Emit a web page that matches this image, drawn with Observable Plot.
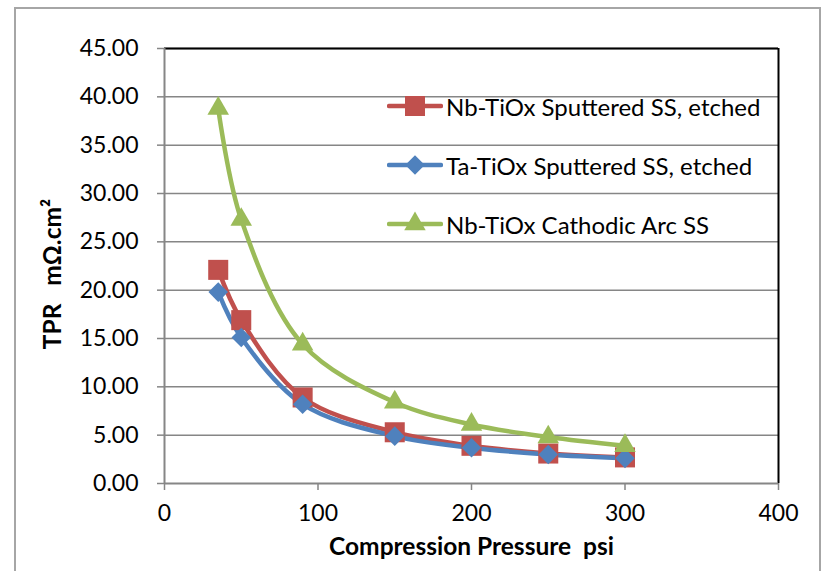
<!DOCTYPE html>
<html>
<head>
<meta charset="utf-8">
<script src="https://cdn.jsdelivr.net/npm/d3@7"></script>
<script src="https://cdn.jsdelivr.net/npm/@observablehq/plot@0.6"></script>
<style>
  html, body { margin: 0; padding: 0; background: #fff; overflow: hidden; }
  #wrap { position: relative; width: 821px; height: 571px; }
  #border { position: absolute; left: 14px; top: 7px; width: 803px; height: 600px; border: 2px solid #a6a6a6; pointer-events: none; }
  svg text { white-space: pre; }
  .legend { position: absolute; left: 387px; top: 0; font-family: Lato, "Open Sans", sans-serif; font-size: 24px; color: #000; }
  .row { position: absolute; left: 0; height: 30px; display: flex; align-items: center; white-space: nowrap; }
  .row svg { display: block; }
  .row span { margin-left: 3px; }
</style>
</head>
<body>
<div id="wrap">
  <div id="chart"></div>
  <div id="border"></div>
  <div class="legend" id="legend"></div>
</div>
<script>
// Data
const pressure = [35, 50, 90, 150, 200, 250, 300];
const nbSputtered = [22.1, 16.9, 8.9, 5.3, 3.9, 3.1, 2.7];
const taSputtered = [19.8, 15.1, 8.2, 4.9, 3.7, 3.0, 2.6];
const nbCathodic = [38.8, 27.3, 14.4, 8.4, 6.1, 4.8, 3.9];
const seriesNames = ["Nb-TiOx Sputtered SS, etched", "Ta-TiOx Sputtered SS, etched", "Nb-TiOx Cathodic Arc SS"];
const seriesColors = ["#C0504D", "#4F81BD", "#9BBB59"];
const yTicks = [0, 5, 10, 15, 20, 25, 30, 35, 40, 45];
const xTicks = [0, 100, 200, 300, 400];
const xTitle = "Compression Pressure  psi";
const yTitle = "TPR   mΩ.cm²";

const diamond = {
  draw(ctx, size) {
    const h = Math.sqrt(size / 2);
    ctx.moveTo(0, -h); ctx.lineTo(h, 0); ctx.lineTo(0, h); ctx.lineTo(-h, 0); ctx.closePath();
  }
};
const symbols = [d3.symbolSquare, diamond, d3.symbolTriangle];
const radii = [11.3, 7.8, 8];

const seriesValues = [nbSputtered, taSputtered, nbCathodic];
const rows = [];
seriesValues.forEach((vals, i) => pressure.forEach((p, j) => rows.push({series: seriesNames[i], x: p, y: vals[j], idx: i})));

const marks = [
  Plot.gridY(yTicks.filter(d => d > 0), {stroke: "#868686", strokeOpacity: 1, strokeWidth: 1.5}),
  Plot.ruleY([45], {stroke: "#000", strokeWidth: 2}),
  Plot.ruleX([400], {stroke: "#000", strokeWidth: 2}),
  Plot.ruleX([0], {stroke: "#868686", strokeWidth: 2}),
  Plot.ruleY([0], {stroke: "#868686", strokeWidth: 2}),
  Plot.axisY({ticks: yTicks, tickSize: 7, tickPadding: 19, tickFormat: d => d.toFixed(2), stroke: "#868686", strokeWidth: 1.5, fill: "#000", fontSize: 23, label: null}),
  Plot.axisX({ticks: xTicks, tickSize: 7, tickPadding: 14, tickFormat: d => String(d), stroke: "#868686", strokeWidth: 1.5, fill: "#000", fontSize: 23, label: null}),
];
seriesNames.forEach((name, i) => {
  const d = rows.filter(r => r.idx === i);
  marks.push(Plot.line(d, {x: "x", y: "y", stroke: seriesColors[i], strokeWidth: 4.5, curve: "catmull-rom"}));
});
seriesNames.forEach((name, i) => {
  const d = rows.filter(r => r.idx === i);
  marks.push(Plot.dot(d, {x: "x", y: "y", fill: seriesColors[i], symbol: () => symbols[i], r: radii[i], stroke: "none"}));
});
marks.push(Plot.text([xTitle], {text: d => d, frameAnchor: "bottom", dy: 71, textAnchor: "middle", fontWeight: "bold", fontSize: 24.5, fill: "#000"}));
marks.push(Plot.text([yTitle], {text: d => d, frameAnchor: "left", textAnchor: "middle", rotate: -90, dx: -111, dy: 8, fontWeight: "bold", fontSize: 24.5, fill: "#000"}));

const chart = Plot.plot({
  width: 821,
  height: 571,
  marginLeft: 164,
  marginRight: 43,
  marginTop: 48,
  marginBottom: 88,
  x: {domain: [0, 400]},
  y: {domain: [0, 45]},
  symbol: {type: "identity"},
  style: {fontFamily: "Lato, 'Open Sans', sans-serif", fontSize: "23px", background: "transparent", color: "#000"},
  marks
});
document.getElementById("chart").appendChild(chart);

// Legend
const rowCenters = [106, 165, 224];
const leg = document.getElementById("legend");
seriesNames.forEach((name, i) => {
  const row = document.createElement("div");
  row.className = "row";
  row.style.top = (rowCenters[i] - 15) + "px";
  const s = d3.create("svg").attr("width", 56).attr("height", 30);
  s.append("line").attr("x1", 2).attr("x2", 54).attr("y1", 15).attr("y2", 15)
    .attr("stroke", seriesColors[i]).attr("stroke-width", 4.5).attr("stroke-linecap", "round");
  const sizes = [400, 190, 200];
  s.append("path").attr("transform", "translate(28,15)")
    .attr("d", d3.symbol(symbols[i], sizes[i])()).attr("fill", seriesColors[i]);
  row.appendChild(s.node());
  const t = document.createElement("span");
  t.textContent = name;
  row.appendChild(t);
  leg.appendChild(row);
});
</script>
</body>
</html>
